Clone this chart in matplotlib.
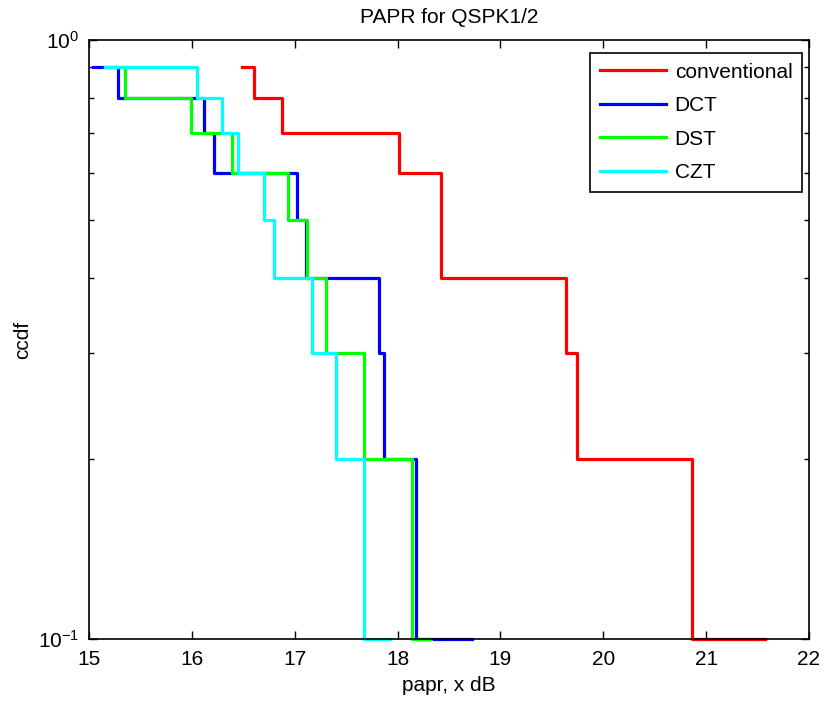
import matplotlib
matplotlib.use('Agg')
import matplotlib.pyplot as plt
from matplotlib.ticker import LogLocator, NullFormatter

plt.rcParams['font.family'] = ['Liberation Sans', 'DejaVu Sans']
plt.rcParams['mathtext.default'] = 'regular'

# ccdf levels shared by all curves (10 samples)
ccdf = [0.9, 0.8, 0.7, 0.6, 0.5, 0.4, 0.3, 0.2, 0.1, 0.1]

# sorted papr values (dB) where each curve steps down
papr_conv = [16.49, 16.60, 16.88, 18.01, 18.42, 18.42, 19.64, 19.74, 20.86, 21.57]
papr_dct = [15.04, 15.28, 16.12, 16.22, 17.02, 17.11, 17.82, 17.87, 18.18, 18.72]
papr_dst = [15.20, 15.35, 15.99, 16.39, 16.93, 17.12, 17.30, 17.67, 18.14, 18.33]
papr_czt = [15.16, 16.05, 16.29, 16.45, 16.70, 16.80, 17.17, 17.40, 17.67, 17.93]

fs = 15

fig = plt.figure(figsize=(8.28, 7.09), dpi=100)
ax = fig.add_axes([0.1075, 0.0987, 0.8695, 0.8449])

lw = 2.3
ax.step(papr_conv, ccdf, where='post', color='#ff0000', lw=lw, label='conventional', clip_on=False)
ax.step(papr_dct, ccdf, where='post', color='#0000ff', lw=lw, label='DCT', clip_on=False)
ax.step(papr_dst, ccdf, where='post', color='#00ff00', lw=lw, label='DST', clip_on=False)
ax.step(papr_czt, ccdf, where='post', color='#00ffff', lw=lw, label='CZT', clip_on=False)

ax.set_yscale('log')
ax.set_xlim(15, 22)
ax.set_ylim(0.1, 1)
ax.set_xticks(range(15, 23))
ax.yaxis.set_major_locator(LogLocator(base=10, numticks=5))
ax.yaxis.set_minor_locator(LogLocator(base=10, subs=[2, 3, 4, 5, 6, 7, 8, 9], numticks=10))
ax.yaxis.set_minor_formatter(NullFormatter())

ax.tick_params(which='both', direction='in', top=True, right=True, labelsize=fs, width=1)
ax.tick_params(which='major', length=6)
ax.tick_params(which='minor', length=3.5)
ax.tick_params(axis='x', pad=8)
ax.tick_params(axis='y', pad=7)
for s in ax.spines.values():
    s.set_linewidth(1.2)

ax.set_title('PAPR for QSPK1/2', fontsize=fs, pad=12)
ax.set_xlabel('papr, x dB', fontsize=fs, labelpad=5)
ax.set_ylabel('ccdf', fontsize=fs, labelpad=4)

leg = ax.legend(loc='upper right', bbox_to_anchor=(0.990, 0.978), borderaxespad=0,
                fontsize=fs, fancybox=False, framealpha=1, edgecolor='black',
                handlelength=3.2, handletextpad=0.4, labelspacing=0.7,
                borderpad=0.45)
leg.get_frame().set_linewidth(1.2)

plt.savefig('out.png', dpi=100)
